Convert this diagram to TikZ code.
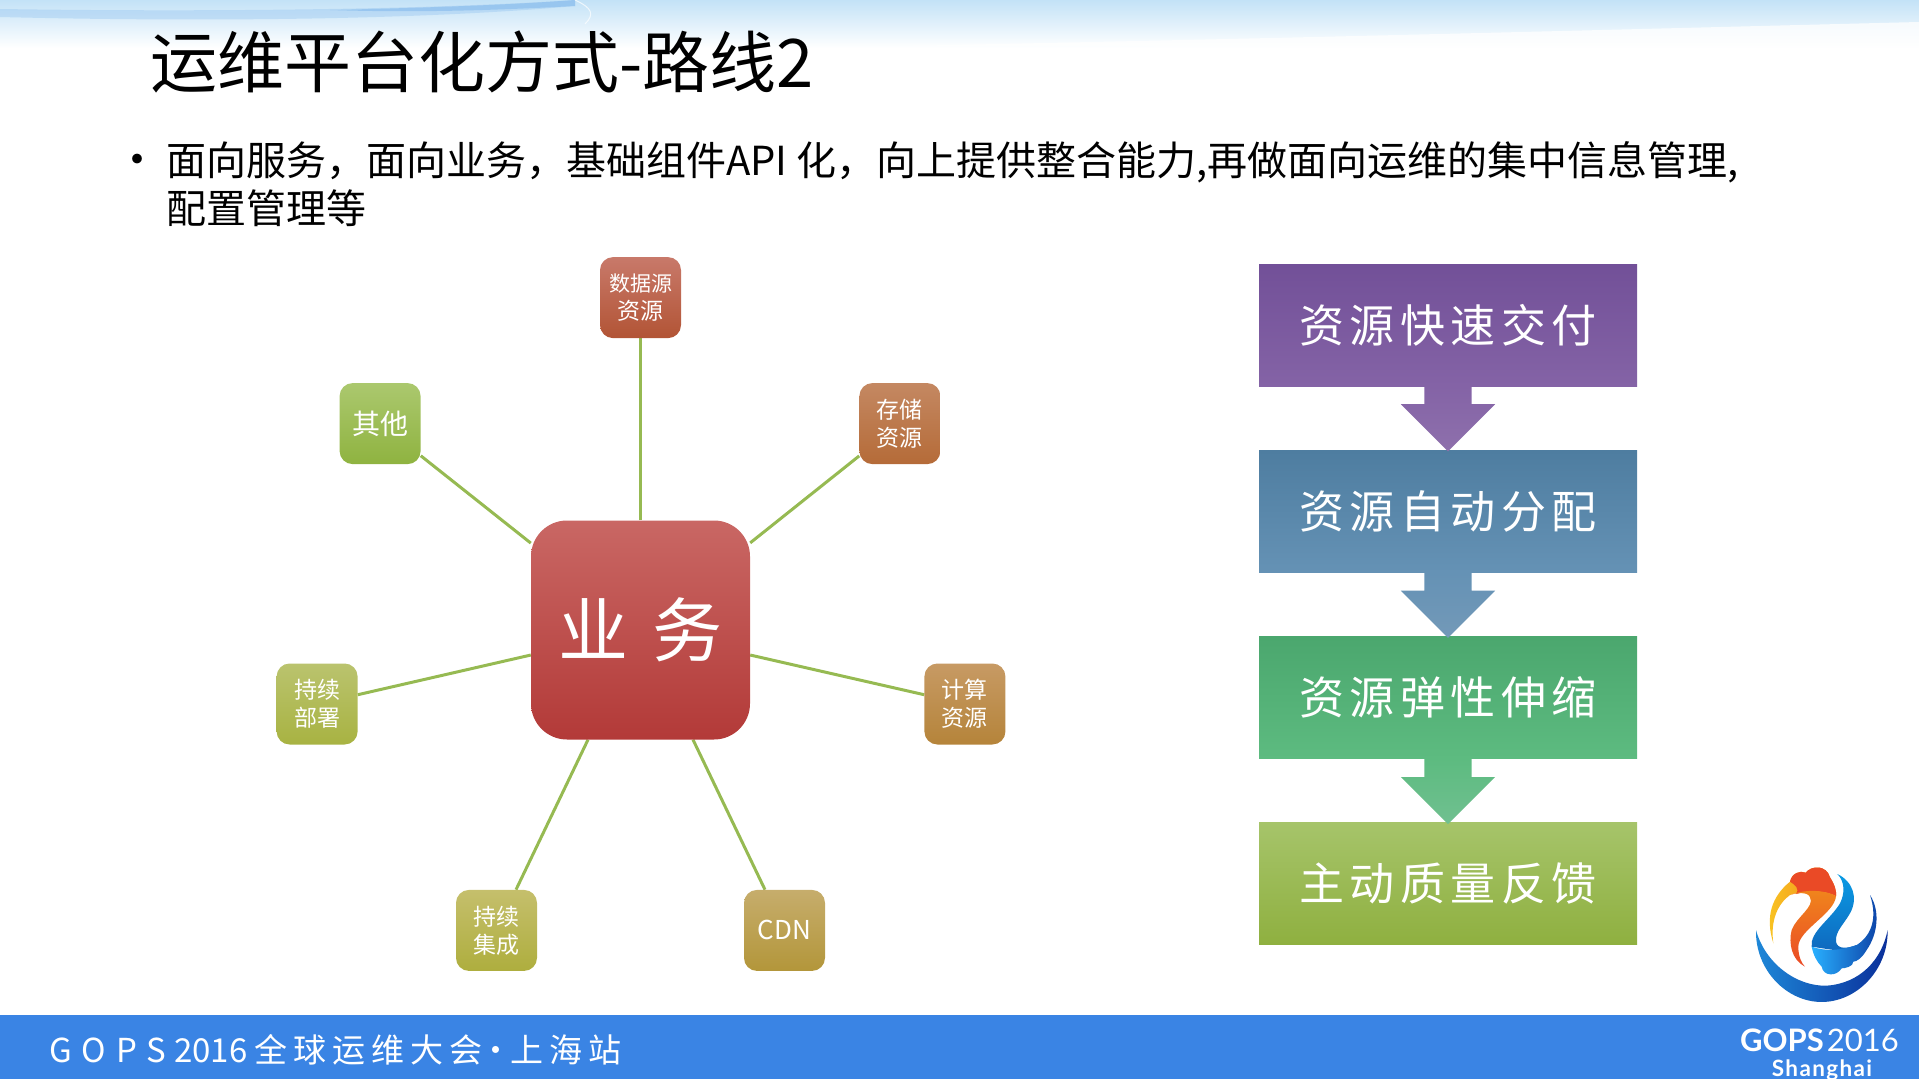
\documentclass[tikz,border=0pt]{standalone}
\usepackage{fontspec}
\setmainfont{Noto Sans CJK SC}
\newfontfamily\logofont{Lato}
\usetikzlibrary{shapes,arrows,positioning,backgrounds}
\definecolor{linegreen}{HTML}{96BA52}
\definecolor{barblue}{HTML}{3A84E4}
\definecolor{bandblue}{HTML}{C3E2F7}
\definecolor{streakblue}{HTML}{8DBFEE}
\definecolor{hubtop}{HTML}{C96764}
\definecolor{hubbot}{HTML}{B33A38}
\definecolor{datatop}{HTML}{C8796A}
\definecolor{databot}{HTML}{B25435}
\definecolor{othertop}{HTML}{ABC86E}
\definecolor{otherbot}{HTML}{8FB340}
\definecolor{storetop}{HTML}{C48862}
\definecolor{storebot}{HTML}{B56B38}
\definecolor{deptop}{HTML}{BAC36E}
\definecolor{depbot}{HTML}{A8B342}
\definecolor{comptop}{HTML}{C79A64}
\definecolor{compbot}{HTML}{B5843A}
\definecolor{citop}{HTML}{C5BF6C}
\definecolor{cibot}{HTML}{AEAE3E}
\definecolor{cdntop}{HTML}{C6AD6C}
\definecolor{cdnbot}{HTML}{B3963A}
\definecolor{purptop}{HTML}{725098}
\definecolor{purpbot}{HTML}{8463A6}
\definecolor{purparrow}{HTML}{8E70AC}
\definecolor{bluetop}{HTML}{4E7DA0}
\definecolor{bluebot}{HTML}{6592B5}
\definecolor{bluearrow}{HTML}{7399B8}
\definecolor{greentop}{HTML}{4BA76E}
\definecolor{greenbot}{HTML}{5DBB80}
\definecolor{greenarrow}{HTML}{70C090}
\definecolor{limetop}{HTML}{A6C46A}
\definecolor{limebot}{HTML}{8FB040}
\definecolor{logoblueA}{HTML}{1E88D8}
\definecolor{logoblueB}{HTML}{29AEFF}
\definecolor{logoblueC}{HTML}{0A2F9A}
\definecolor{logoyellow}{HTML}{F9C623}
\definecolor{logoorange}{HTML}{F0861C}
\definecolor{logored}{HTML}{EA4A26}
\definecolor{logoskyA}{HTML}{0A9BE4}
\definecolor{logoskyB}{HTML}{0F68BE}
\definecolor{logoskyC}{HTML}{29B0FF}

\begin{document}
\begin{tikzpicture}[
    x=1pt,
    y=-1pt,
    hubbox/.style={
        rectangle,
        rounded corners=36pt,
        minimum size=219pt,
        inner sep=0pt,
        text=white,
        align=center,
        font=\fontsize{70}{80}\selectfont
    },
    satbox/.style={
        rectangle,
        rounded corners=13pt,
        minimum size=81pt,
        inner sep=0pt,
        text=white,
        align=center,
        font=\fontsize{23}{28}\selectfont
    },
    flowbox/.style={
        rectangle,
        minimum height=122pt,
        minimum width=378pt,
        inner sep=0pt,
        text=white,
        align=center,
        font=\fontsize{45}{50}\selectfont\addfontfeature{LetterSpace=12}
    },
    flowarrow/.style={
        single arrow,
        shape border rotate=270,
        single arrow head extend=23.5pt,
        single arrow tip angle=90,
        minimum height=65pt,
        minimum width=94pt,
        text width=47pt,
        text height=8pt,
        text depth=0pt,
        inner sep=0pt,
        anchor=tail
    },
    line/.style={draw=linegreen, line width=3pt}
]

\useasboundingbox (0,0) rectangle (1919,1079);

% Top band
\shade [top color=bandblue, bottom color=white] (0,0) rectangle (1919,48);
\fill [white, opacity=.75]
    (1919,22) .. controls (1600,30) and (1300,38) .. (900,46) -- (1919,48) -- cycle;
\fill [streakblue, opacity=.35]
    (0,9) .. controls (200,12) and (420,10) .. (575,0) -- (575,6)
    .. controls (420,20) and (200,22) .. (0,17) -- cycle;
\fill [streakblue, opacity=.7]
    (330,10) .. controls (420,8) and (510,5) .. (575,0) -- (575,6)
    .. controls (500,10) and (420,13) .. (330,10) -- cycle;
\draw [white, opacity=.7, line width=1pt] (575,0) .. controls (592,8) and (595,14) .. (585,24);

% Title and bullet text
\node [anchor=west, inner sep=0pt, font=\fontsize{67}{70}\selectfont] (title) at (150,62) {运维平台化方式-路线2};
\node [anchor=center, inner sep=0pt, font=\fontsize{46}{48}\selectfont] (bullet) at (137,165) {•};
\node [anchor=north west, inner sep=0pt, align=left, font=\fontsize{40}{48}\selectfont] (body) at (166,141)
    {面向服务，面向业务，基础组件API 化，向上提供整合能力,再做面向运维的集中信息管理,\\配置管理等};

% Hub and satellites
\node [hubbox, top color=hubtop, bottom color=hubbot] (hub) at (640.5,630) {业\hspace{24pt}务};

\node [satbox, top color=datatop, bottom color=databot, above=182pt of hub] (data) {\fontsize{21}{27}\selectfont 数据源\\资源};
\node [satbox, top color=othertop, bottom color=otherbot, above left=56pt and 110pt of hub] (other) {\fontsize{28}{32}\selectfont 其他};
\node [satbox, top color=storetop, bottom color=storebot, above right=56pt and 109pt of hub] (storage) {存储\\资源};
\node [satbox, top color=deptop, bottom color=depbot, left=173pt of hub, yshift=-74pt] (deploy) {持续\\部署};
\node [satbox, top color=comptop, bottom color=compbot, right=174pt of hub, yshift=-74pt] (compute) {计算\\资源};
\node [satbox, top color=citop, bottom color=cibot, below=150pt of hub, xshift=-144pt] (integ) {持续\\集成};
\node [satbox, top color=cdntop, bottom color=cdnbot, below=150pt of hub, xshift=144pt] (cdn) {\fontsize{26}{30}\selectfont CDN};

\begin{scope}[on background layer]
\draw [line] (hub) -- (data);
\draw [line] (hub) -- (other);
\draw [line] (hub) -- (storage);
\draw [line] (hub) -- (deploy);
\draw [line] (hub) -- (compute);
\draw [line] (hub) -- (integ);
\draw [line] (hub) -- (cdn);
\end{scope}

% Flow column
\node [flowbox, top color=purptop, bottom color=purpbot] (deliver) at (1448,325) {资源快速交付};
\node [flowbox, top color=bluetop, bottom color=bluebot, below=64pt of deliver] (alloc) {资源自动分配};
\node [flowbox, top color=greentop, bottom color=greenbot, below=64pt of alloc] (scale) {资源弹性伸缩};
\node [flowbox, top color=limetop, bottom color=limebot, below=63pt of scale] (feedback) {主动质量反馈};

\node [flowarrow, top color=purpbot, bottom color=purparrow] (arrow1) at (deliver.south) {};
\node [flowarrow, top color=bluebot, bottom color=bluearrow] (arrow2) at (alloc.south) {};
\node [flowarrow, top color=greenbot, bottom color=greenarrow] (arrow3) at (scale.south) {};

% Footer bar
\fill [barblue] (0,1015) rectangle (1919,1079);
\node [anchor=west, inner sep=0pt, text=white, font=\fontsize{33}{36}\selectfont] (footer) at (49,1050)
    {{\addfontfeature{LetterSpace=30}GOPS}\hspace{8pt}2016\hspace{7pt}{\addfontfeature{LetterSpace=18}全球运维大会\hspace{-2.5pt}·\hspace{-2.5pt}上海站}};
\node [anchor=east, inner sep=0pt, text=white, font=\logofont\fontsize{31}{36}\selectfont] (gops) at (1899,1040)
    {\textbf{GOPS}\hspace{3pt}2016};
\node [inner sep=0pt, text=white, font=\logofont\bfseries\fontsize{22.5}{26}\selectfont] (city) at (1822,1070)
    {\addfontfeature{LetterSpace=6}Shanghai};

% Logo
\begin{scope}[shift={(1640,820)}, x=0.3333pt, y=-0.3333pt]
\shade [left color=logoblueA, middle color=logoblueB, right color=logoblueC]
    (348,330) .. controls (345,450) and (440,546) .. (545,546)
    .. controls (650,546) and (745,450) .. (743,330)
    .. controls (725,420) and (660,490) .. (560,497)
    .. controls (470,500) and (375,430) .. (348,330) -- cycle;
\shade [left color=logoyellow, right color=logoorange]
    (400,370) .. controls (375,290) and (395,230) .. (450,185)
    .. controls (455,160) and (480,150) .. (497,158)
    .. controls (515,135) and (560,135) .. (570,172)
    .. controls (585,195) and (590,215) .. (588,228)
    .. controls (560,215) and (500,205) .. (450,225)
    .. controls (415,250) and (390,300) .. (400,370) -- cycle;
\fill [logored]
    (450,185) .. controls (455,160) and (480,150) .. (497,158)
    .. controls (515,135) and (560,135) .. (570,172)
    .. controls (585,195) and (590,215) .. (588,228)
    .. controls (560,212) and (510,210) .. (468,222)
    .. controls (480,205) and (465,195) .. (450,185) -- cycle;
\shade [top color=logoorange, bottom color=logored]
    (588,228) .. controls (585,280) and (475,330) .. (475,380)
    .. controls (475,410) and (485,430) .. (495,440)
    .. controls (455,420) and (445,370) .. (455,330)
    .. controls (470,290) and (525,260) .. (510,232)
    .. controls (505,215) and (470,218) .. (450,225)
    .. controls (500,205) and (560,212) .. (588,228) -- cycle;
\shade [top color=logoskyA, bottom color=logoskyB]
    (592,162) .. controls (640,185) and (655,235) .. (630,280)
    .. controls (610,315) and (585,335) .. (588,365)
    .. controls (592,390) and (625,385) .. (650,375)
    -- (650,395) .. controls (600,395) and (550,385) .. (515,380)
    .. controls (510,335) and (570,300) .. (600,250)
    .. controls (615,220) and (615,185) .. (592,162) -- cycle;
\shade [left color=logoskyC, right color=logoblueC!70!logoskyB]
    (515,380) .. controls (560,395) and (600,392) .. (650,375)
    .. controls (690,350) and (715,300) .. (690,225)
    .. controls (720,270) and (715,340) .. (680,390)
    .. controls (665,415) and (650,425) .. (640,425)
    .. controls (640,440) and (615,445) .. (605,445)
    .. controls (590,470) and (550,470) .. (545,440)
    .. controls (530,425) and (520,405) .. (515,380) -- cycle;
\end{scope}

\end{tikzpicture}
\end{document}
